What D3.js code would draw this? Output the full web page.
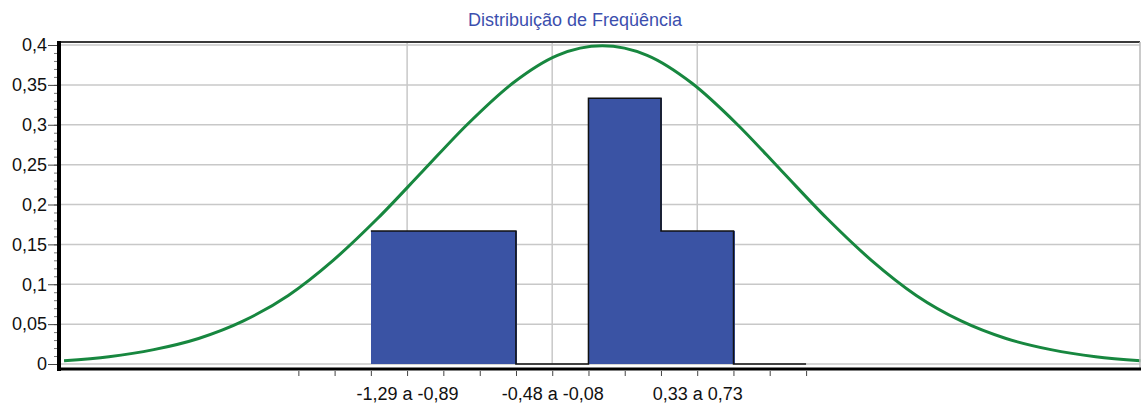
<!DOCTYPE html>
<html>
<head>
  <meta charset="utf-8">
  <title>Distribuição de Freqüência</title>
  <script src="https://d3js.org/d3.v7.min.js"></script>
  <style>
    body { margin: 0; background: white; }
    .canvas { background-color: white; }
    .grid { stroke: #c8c8c8; stroke-width: 1.5px; }
    .tick text { font-family: "Liberation Sans", Arial, sans-serif; font-size: 18px; fill: #111; }
  </style>
</head>
<body>
<script>
  // Data
  var title = "Distribuição de Freqüência";
  var binEdges = [-1.29, -0.8857, -0.4814, -0.0771, 0.3271, 0.7314, 1.1357];
  var binFreq = [0.1667, 0.1667, 0, 0.3333, 0.1667, 0];
  var binLabels = ["-1,29 a -0,89", "-0,89 a -0,48", "-0,48 a -0,08", "-0,08 a 0,33", "0,33 a 0,73", "0,73 a 1,14"];
  var shownBins = [0, 2, 4];
  var xTicks = [-1.694, -1.492, -1.29, -1.088, -0.886, -0.683, -0.481, -0.279, -0.077, 0.125, 0.327, 0.529, 0.731, 0.933, 1.136];
  var yTicks = [0, 0.05, 0.1, 0.15, 0.2, 0.25, 0.3, 0.35, 0.4];
  var yMinorTicks = d3.range(0, 41).map(function(i) { return i / 100; });
  // normal curve
  var curveX = [-3, -2.75, -2.5, -2.25, -2, -1.75, -1.5, -1.25, -1, -0.75, -0.5, -0.25, 0, 0.25, 0.5, 0.75, 1, 1.25, 1.5, 1.75, 2, 2.25, 2.5, 2.75, 3];
  var curveY = [0.004, 0.009, 0.018, 0.032, 0.054, 0.086, 0.130, 0.183, 0.242, 0.301, 0.352, 0.387, 0.399, 0.387, 0.352, 0.301, 0.242, 0.183, 0.130, 0.086, 0.054, 0.032, 0.018, 0.009, 0.004];

  // Consts
  var width = 1141, height = 406;
  var plot = {left: 61, right: 1140, top: 42, bottom: 369};

  var svg = d3.select("body").append("svg")
      .attr("width", width)
      .attr("height", height)
      .attr("class", "canvas");

  var x = d3.scaleLinear().domain([-3.017, 2.997]).range([plot.left, plot.right]);
  var y = d3.scaleLinear().domain([0, 0.4]).range([364, 45]);

  var fmt = d3.formatLocale({decimal: ",", thousands: ".", grouping: [3], currency: ["R$", ""]}).format(".2~f");

  // Title
  svg.append("text")
      .attr("x", 575)
      .attr("y", 26)
      .attr("text-anchor", "middle")
      .style("font", "18px 'Liberation Sans', Arial, sans-serif")
      .style("fill", "#3c4fae")
      .text(title);

  // Grid
  svg.append("g").selectAll("line")
      .data(yTicks)
      .enter().append("line")
      .attr("class", "grid")
      .attr("x1", plot.left).attr("x2", plot.right)
      .attr("y1", function(d) { return y(d); })
      .attr("y2", function(d) { return y(d); });

  svg.append("g").selectAll("line")
      .data(shownBins)
      .enter().append("line")
      .attr("class", "grid")
      .attr("y1", plot.top).attr("y2", y(0))
      .attr("x1", function(i) { return x((binEdges[i] + binEdges[i + 1]) / 2); })
      .attr("x2", function(i) { return x((binEdges[i] + binEdges[i + 1]) / 2); });

  // Bars
  var bins = binFreq.map(function(f, i) { return {x0: binEdges[i], x1: binEdges[i + 1], f: f}; });
  svg.append("g").selectAll("rect")
      .data(bins.filter(function(d) { return d.f > 0; }))
      .enter().append("rect")
      .attr("x", function(d) { return x(d.x0); })
      .attr("width", function(d) { return x(d.x1) - x(d.x0) + 1; })
      .attr("y", function(d) { return y(d.f); })
      .attr("height", function(d) { return y(0) - y(d.f); })
      .attr("shape-rendering", "crispEdges")
      .style("fill", "#3a53a4");

  // Step outline
  var stepPts = bins.map(function(d) { return [d.x0, d.f]; });
  stepPts.push([binEdges[binEdges.length - 1], binFreq[binFreq.length - 1]]);
  svg.append("path")
      .attr("d", d3.line().curve(d3.curveStepAfter)
        .x(function(d) { return x(d[0]); })
        .y(function(d) { return y(d[1]); })(stepPts))
      .style("fill", "none")
      .style("stroke", "#111")
      .style("stroke-width", 1.5);

  // Curve
  svg.append("path")
      .attr("d", d3.line().curve(d3.curveMonotoneX)
        .x(function(d, i) { return x(curveX[i]); })
        .y(function(d) { return y(d); })(curveY))
      .style("fill", "none")
      .style("stroke", "#17873f")
      .style("stroke-width", 3);

  // Frame
  svg.append("line")
      .attr("x1", plot.left - 2).attr("x2", plot.right)
      .attr("y1", plot.top).attr("y2", plot.top)
      .style("stroke", "#3a3a3a").style("stroke-width", 2);
  svg.append("line")
      .attr("x1", plot.right).attr("x2", plot.right)
      .attr("y1", plot.top).attr("y2", plot.bottom)
      .style("stroke", "#b8b8b8").style("stroke-width", 1.5);

  // Y axis
  var yMinor = svg.append("g")
      .attr("transform", "translate(57,0)")
      .call(d3.axisLeft(y).tickValues(yMinorTicks).tickSize(3).tickFormat(""));
  yMinor.select(".domain").remove();
  yMinor.selectAll("line").style("stroke", "#777");

  var yAxis = svg.append("g")
      .attr("transform", "translate(57,0)")
      .call(d3.axisLeft(y).tickValues(yTicks).tickSize(9).tickPadding(1).tickFormat(fmt));
  yAxis.select(".domain").remove();
  yAxis.selectAll("line").style("stroke", "#444");

  // X axis
  var xAxis = svg.append("g")
      .attr("transform", "translate(0,371)")
      .call(d3.axisBottom(x).tickValues(xTicks).tickSize(5).tickPadding(11)
        .tickFormat(function(d) {
          for (var k = 0; k < shownBins.length; k++) {
            var i = shownBins[k];
            if (Math.abs((binEdges[i] + binEdges[i + 1]) / 2 - d) < 0.01) return binLabels[i];
          }
          return "";
        }));
  xAxis.select(".domain").remove();
  xAxis.selectAll("line").style("stroke", "#444");

  // Thick axis lines
  svg.append("line")
      .attr("x1", 59).attr("x2", 59)
      .attr("y1", plot.top - 1).attr("y2", plot.bottom + 2)
      .style("stroke", "#000").style("stroke-width", 4);
  svg.append("line")
      .attr("x1", 57).attr("x2", width)
      .attr("y1", plot.bottom).attr("y2", plot.bottom)
      .style("stroke", "#000").style("stroke-width", 3);
</script>
</body>
</html>
